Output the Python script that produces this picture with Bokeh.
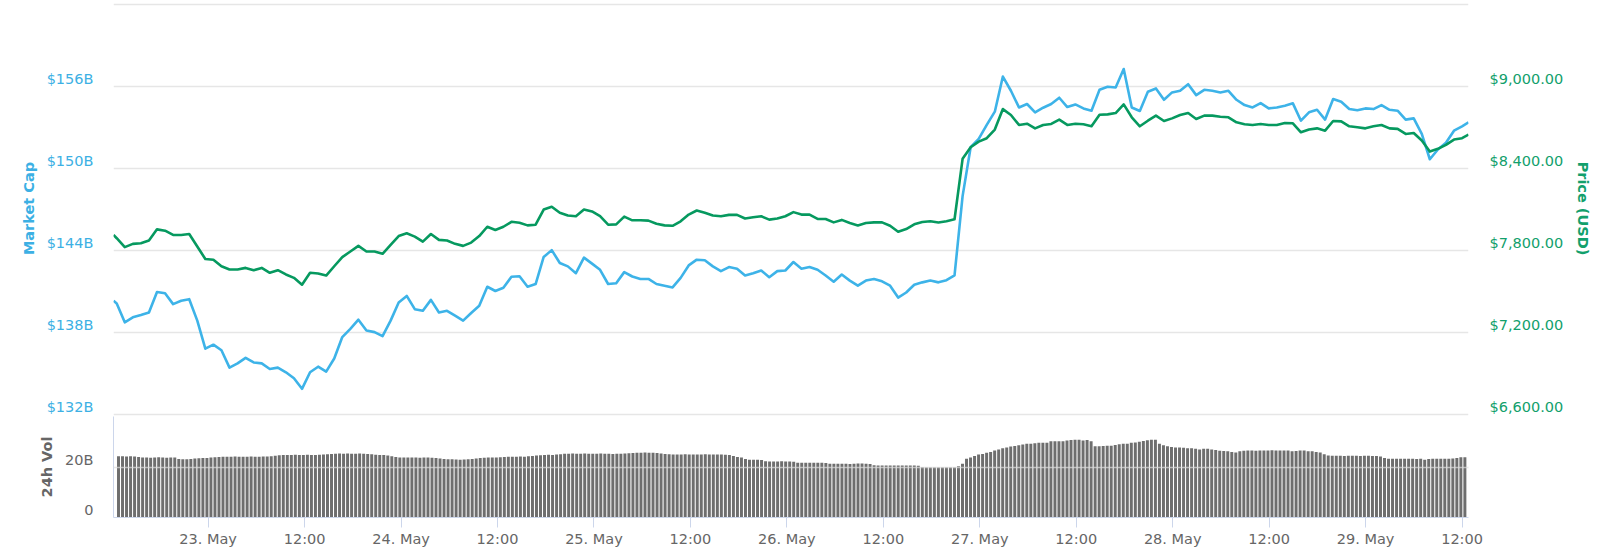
from bokeh.plotting import figure
from bokeh.models import Range1d, LinearAxis, FixedTicker, Grid
from bokeh.layouts import column
from bokeh.embed import file_html
from bokeh.resources import INLINE

# ---------------- data ----------------
# hours since 22 May 00:00
hours = [12.6] + list(range(13, 181)) + [180.8]

market_cap_b = [
    140.34,
    140.14, 138.77, 139.13, 139.30, 139.49, 140.99, 140.89, 140.10, 140.34, 140.46,
    138.89, 136.84, 137.13, 136.72, 135.45, 135.76, 136.17, 135.83, 135.76, 135.35,
    135.45, 135.11, 134.67, 133.90, 135.11, 135.52, 135.16, 136.12, 137.69, 138.29,
    138.96, 138.17, 138.05, 137.76, 138.89, 140.22, 140.70, 139.73, 139.61, 140.41,
    139.49, 139.61, 139.25, 138.89, 139.45, 139.98, 141.37, 141.06, 141.30, 142.10,
    142.14, 141.37, 141.57, 143.55, 144.05, 143.11, 142.86, 142.36, 143.50, 143.06,
    142.61, 141.57, 141.62, 142.44, 142.12, 141.94, 141.94, 141.57, 141.45, 141.32,
    142.02, 142.93, 143.35, 143.31, 142.86, 142.51, 142.81, 142.69, 142.19, 142.36,
    142.56, 142.07, 142.51, 142.56, 143.18, 142.69, 142.81, 142.61, 142.19, 141.74,
    142.26, 141.82, 141.45, 141.82, 141.94, 141.77, 141.45, 140.58, 140.95, 141.52,
    141.69, 141.82, 141.69, 141.85, 142.20, 148.00, 151.58, 152.19, 153.21, 154.18,
    156.75, 155.71, 154.49, 154.74, 154.13, 154.47, 154.74, 155.20, 154.52, 154.71,
    154.42, 154.25, 155.78, 156.00, 155.95, 157.30, 154.49, 154.23, 155.64, 155.88,
    155.05, 155.59, 155.71, 156.19, 155.39, 155.78, 155.71, 155.59, 155.71, 155.05,
    154.66, 154.49, 154.81, 154.42, 154.49, 154.62, 154.79, 153.52, 154.13, 154.32,
    153.60, 155.10, 154.91, 154.37, 154.28, 154.42, 154.37, 154.66, 154.32, 154.25,
    153.60, 153.69, 152.55, 150.70, 151.41, 151.90, 152.79, 153.11,
    153.40,
]

price_usd = [
    7916,
    7892, 7827, 7851, 7855, 7875, 7957, 7947, 7916, 7916, 7923,
    7831, 7740, 7735, 7687, 7663, 7663, 7675, 7658, 7675, 7639,
    7658, 7627, 7602, 7552, 7639, 7634, 7619, 7687, 7754, 7795,
    7836, 7795, 7795, 7778, 7843, 7908, 7928, 7904, 7867, 7923,
    7880, 7875, 7851, 7836, 7860, 7908, 7976, 7952, 7976, 8012,
    8005, 7986, 7991, 8102, 8122, 8078, 8058, 8053, 8102, 8088,
    8053, 7991, 7993, 8050, 8023, 8023, 8021, 7998, 7986, 7983,
    8016, 8065, 8095, 8078, 8058, 8053, 8063, 8063, 8036, 8046,
    8053, 8028, 8036, 8053, 8083, 8065, 8065, 8033, 8033, 8008,
    8026, 8003, 7986, 8003, 8008, 8008, 7983, 7939, 7959, 7994,
    8011, 8016, 8007, 8016, 8031, 8473, 8558, 8599, 8624, 8687,
    8837, 8794, 8721, 8730, 8696, 8721, 8728, 8760, 8721, 8730,
    8726, 8711, 8796, 8798, 8808, 8871, 8777, 8711, 8752, 8789,
    8750, 8769, 8794, 8808, 8764, 8789, 8789, 8781, 8777, 8740,
    8726, 8721, 8728, 8721, 8721, 8735, 8733, 8667, 8687, 8696,
    8679, 8750, 8747, 8711, 8704, 8696, 8711, 8721, 8696, 8692,
    8655, 8662, 8607, 8526, 8546, 8575, 8614, 8624,
    8650,
]

# 24h volume, one bar every 30 minutes
vol_hours = [12.85 + 0.5 * k for k in range(336)]
volume_b = [
    24.5, 24.5, 24.4, 24.5, 24.4,
    24.2, 24.0, 24.0, 23.9, 24.0, 24.1, 24.0, 23.9, 24.0, 24.0,
    23.4, 23.3, 23.3, 23.4,
    23.6, 23.7, 23.8, 23.8, 24.0, 24.1,
    24.2, 24.3, 24.3, 24.3, 24.4, 24.3, 24.3, 24.3, 24.4, 24.3, 24.3, 24.4, 24.4, 24.5, 24.7,
    24.9, 25.0, 25.0, 25.0, 25.1, 25.0, 25.0, 25.1, 25.0, 25.0, 25.1, 25.2, 25.3, 25.4,
    25.5, 25.6, 25.5, 25.6, 25.5, 25.5, 25.6, 25.5, 25.4, 25.3,
    25.1, 25.0, 25.0, 24.8, 24.5,
    24.2, 24.0, 24.0, 24.0, 24.0, 24.0, 23.9, 24.0, 24.0, 23.9, 23.8, 23.6,
    23.4, 23.3, 23.3, 23.2, 23.1, 23.2, 23.3, 23.4, 23.6,
    23.8, 23.9, 24.0, 24.0, 24.0, 24.1, 24.2,
    24.3, 24.3, 24.3, 24.4, 24.3, 24.5, 24.6, 24.8,
    24.9, 25.0, 25.1, 25.0, 25.2, 25.3,
    25.5, 25.5, 25.6, 25.5, 25.5, 25.6, 25.5, 25.5, 25.5, 25.6, 25.5, 25.5, 25.4, 25.5, 25.5, 25.6, 25.7, 25.8,
    25.9, 25.9, 26.0, 25.9, 25.9, 25.8,
    25.6, 25.4, 25.3, 25.2, 25.2, 25.2, 25.3, 25.2, 25.2, 25.2, 25.2, 25.3, 25.2, 25.2, 25.2, 25.2, 25.1, 25.0,
    24.6, 24.2, 24.0,
    23.4, 23.1, 23.1, 23.1, 23.0,
    22.5, 22.4, 22.4, 22.4, 22.5, 22.4, 22.4, 22.3,
    21.9, 21.9, 21.9, 21.9, 21.9, 21.9, 21.9, 21.8,
    21.5, 21.5, 21.5, 21.5, 21.5, 21.4, 21.5, 21.6, 21.6, 21.5, 21.4,
    20.9, 20.8, 20.8, 20.8, 20.8, 20.8, 20.8, 20.8, 20.8, 20.8, 20.8, 20.7,
    20.2, 20.1, 20.1, 20.1, 20.1, 20.1, 20.1, 20.1, 20.1,
    20.5, 21.5, 23.5, 24.0, 24.6, 25.2, 25.4, 25.9, 26.2, 26.8,
    27.2, 27.7, 28.0, 28.4, 28.6, 28.9, 29.2, 29.5, 29.5, 29.7,
    29.9, 29.9, 29.9, 30.5, 30.5, 30.5, 30.5, 30.8, 31.0, 31.1,
    31.1, 30.8, 31.0, 30.5, 28.5, 28.5, 28.6, 28.7, 28.7, 29.0,
    29.3, 29.5, 29.5, 29.9, 30.0, 30.3, 30.6, 30.9, 31.1, 31.1,
    29.5, 28.9, 28.5, 28.2, 28.0, 28.0, 27.9, 27.7, 27.7, 27.5,
    27.2, 27.5, 27.5, 27.2, 27.0, 26.7, 26.6, 26.5, 26.2, 26.0,
    26.5, 26.7,
    26.8, 26.8, 26.7, 26.8, 26.8, 26.8, 26.9, 26.8, 26.8, 26.8,
    26.8, 26.5, 26.6, 26.8, 26.8, 26.5, 26.5, 26.2, 26.0, 25.3, 24.8,
    24.7, 24.7, 24.7, 24.6, 24.7, 24.7, 24.7, 24.6, 24.7, 24.7, 24.6,
    24.6, 24.4, 23.8,
    23.5, 23.5, 23.5, 23.5, 23.5, 23.5, 23.5, 23.4, 23.5,
    23.1,
    23.4, 23.5, 23.5, 23.5, 23.5, 23.5, 23.6,
    23.8, 24.1, 24.1,
]

mcap_ticks = [132, 138, 144, 150, 156, 162]
mcap_labels = ["$132B", "$138B", "$144B", "$150B", "$156B", "$162B"]
price_ticks = [6600, 7200, 7800, 8400, 9000, 9600]
price_labels = ["$6,600.00", "$7,200.00", "$7,800.00", "$8,400.00", "$9,000.00", "$9,600.00"]
vol_ticks = [0, 20]
vol_labels = ["0", "20B"]
x_ticks = [24, 36, 48, 60, 72, 84, 96, 108, 120, 132, 144, 156, 168, 180]
x_labels = ["23. May", "12:00", "24. May", "12:00", "25. May", "12:00", "26. May",
            "12:00", "27. May", "12:00", "28. May", "12:00", "29. May", "12:00"]

# ---------------- style ----------------
BLUE = "#3db3e8"
BLUE_TXT = "#3cb0e4"
GREEN = "#06995f"
GREEN_TXT = "#12a06c"
GRAY_TXT = "#666666"
AXIS_C = "#ccd6eb"
GRID_C = "#e6e6e6"
FONT = "DejaVu Sans"
LBL = "14.5px"
TTL = "14.5px"

W = 1600
PX_PER_B = 410.0 / 30.0
Y0 = 132 - 1.7 / PX_PER_B
Y1 = 162 + 4.3 / PX_PER_B
LBL_OFF_B = round(8 / PX_PER_B, 4)

x_start = 12.6
x_end = 180.8
px_per_h = 1355.0 / (x_end - x_start)


def strip_grids(fig):
    fig.center = [c for c in fig.center if not isinstance(c, Grid)]


# ---------------- main panel ----------------
p = figure(width=W, height=416, x_range=Range1d(x_start, x_end), y_range=Range1d(Y0, Y1),
           x_axis_location=None, y_axis_location=None,
           output_backend="svg", toolbar_location=None,
           min_border_left=113, min_border_right=132, min_border_top=0, min_border_bottom=0)
strip_grids(p)
p.outline_line_color = None
p.background_fill_color = "white"
p.border_fill_color = "white"
p.extra_y_ranges = {"price": Range1d(6600 + (Y0 - 132) * 100, 6600 + (Y1 - 132) * 100)}

p.add_layout(Grid(dimension=1, ticker=FixedTicker(ticks=mcap_ticks),
                  grid_line_color=GRID_C, grid_line_width=1.5))

lt = [round(t + LBL_OFF_B, 4) for t in mcap_ticks[:-1]]
ax_l = LinearAxis(ticker=FixedTicker(ticks=lt),
                  major_label_overrides={k: s for k, s in zip(lt, mcap_labels[:-1])},
                  axis_line_color=None, major_tick_line_color=None, minor_tick_line_color=None,
                  major_tick_out=0, major_tick_in=0,
                  major_label_text_color=BLUE_TXT, major_label_text_font=FONT,
                  major_label_text_font_size=LBL, major_label_standoff=20,
                  axis_label="Market Cap", axis_label_text_color=BLUE_TXT,
                  axis_label_text_font=FONT, axis_label_text_font_style="bold",
                  axis_label_text_font_size=TTL, axis_label_standoff=7)
p.add_layout(ax_l, "left")

rt = [round(t + LBL_OFF_B * 100, 2) for t in price_ticks[:-1]]
ax_r = LinearAxis(y_range_name="price", ticker=FixedTicker(ticks=rt),
                  major_label_overrides={k: s for k, s in zip(rt, price_labels[:-1])},
                  axis_line_color=None, major_tick_line_color=None, minor_tick_line_color=None,
                  major_tick_out=0, major_tick_in=0,
                  major_label_text_color=GREEN_TXT, major_label_text_font=FONT,
                  major_label_text_font_size=LBL, major_label_standoff=21,
                  axis_label="Price (USD)", axis_label_text_color=GREEN_TXT,
                  axis_label_text_font=FONT, axis_label_text_font_style="bold",
                  axis_label_text_font_size=TTL, axis_label_standoff=9)
p.add_layout(ax_r, "right")

p.line(hours, market_cap_b, line_color=BLUE, line_width=2.6, line_join="round")
p.line(hours, price_usd, y_range_name="price", line_color=GREEN, line_width=2.6, line_join="round")

# ---------------- volume panel ----------------
VOL_TOP = 101 / 2.5
VOL_OFF = round(8 / 2.5, 3)
pv = figure(width=W, height=136, x_range=Range1d(x_start - 3 / px_per_h, x_end),
            y_range=Range1d(0, VOL_TOP),
            x_axis_location=None, y_axis_location=None,
            output_backend="svg", toolbar_location=None,
            min_border_left=110, min_border_right=132, min_border_top=0, min_border_bottom=35)
strip_grids(pv)
pv.outline_line_color = None
pv.background_fill_color = "white"
pv.border_fill_color = "white"

pv.vbar(x=vol_hours, top=volume_b, bottom=0, width=0.37, fill_color="#6e6e6e", line_color=None)

g = Grid(dimension=1, ticker=FixedTicker(ticks=[20]), grid_line_color="#dddddd",
         grid_line_alpha=0.7, grid_line_width=1.5)
g.level = "overlay"
pv.add_layout(g)

vt = [round(t + VOL_OFF, 3) for t in vol_ticks]
ax_v = LinearAxis(ticker=FixedTicker(ticks=vt),
                  major_label_overrides={k: s for k, s in zip(vt, vol_labels)},
                  axis_line_color=AXIS_C, axis_line_width=1,
                  major_tick_line_color=None, minor_tick_line_color=None,
                  major_tick_out=0, major_tick_in=0,
                  major_label_text_color=GRAY_TXT, major_label_text_font=FONT,
                  major_label_text_font_size=LBL, major_label_standoff=20,
                  axis_label="24h Vol", axis_label_text_color=GRAY_TXT,
                  axis_label_text_font=FONT, axis_label_text_font_style="bold",
                  axis_label_text_font_size=TTL, axis_label_standoff=7)
pv.add_layout(ax_v, "left")

ax_x = LinearAxis(ticker=FixedTicker(ticks=x_ticks),
                  major_label_overrides={k: s for k, s in zip(x_ticks, x_labels)},
                  axis_line_color=AXIS_C, major_tick_line_color=AXIS_C,
                  minor_tick_line_color=None, major_tick_out=10, major_tick_in=0,
                  major_label_text_color=GRAY_TXT, major_label_text_font=FONT,
                  major_label_text_font_size=LBL, major_label_standoff=3)
pv.add_layout(ax_x, "below")

layout = column(p, pv, spacing=0)
open("out.html", "w").write(file_html(layout, INLINE))
